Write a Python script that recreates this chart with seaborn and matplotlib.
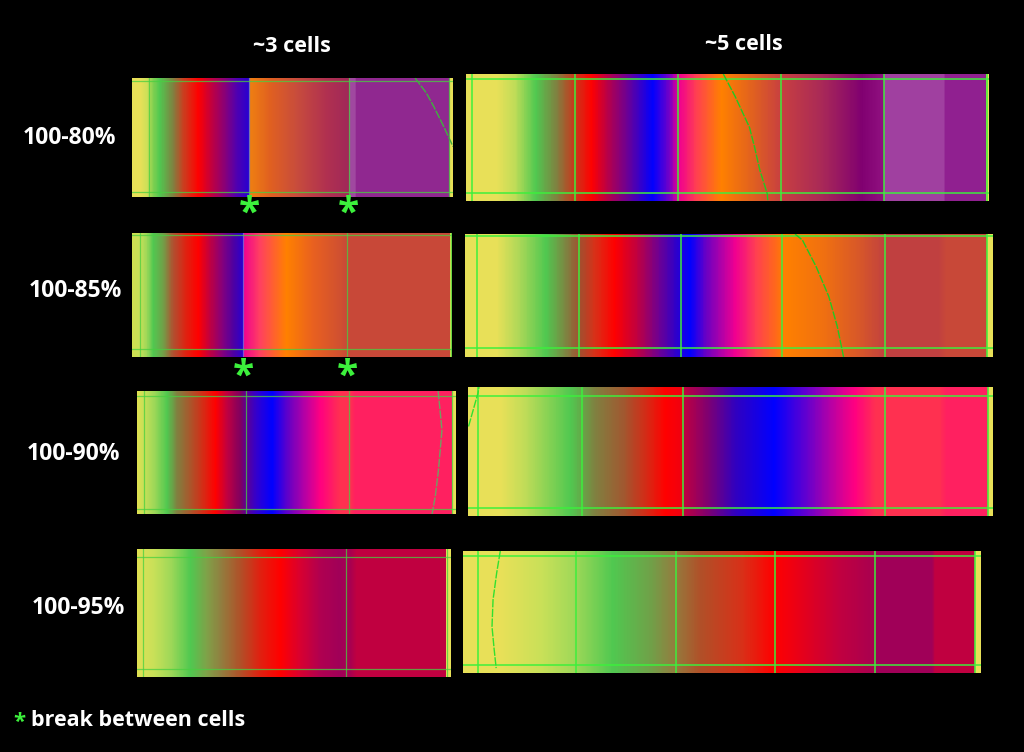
import numpy as np
import matplotlib
matplotlib.use("Agg")
import matplotlib.pyplot as plt
from matplotlib.colors import LinearSegmentedColormap
import seaborn as sns

plt.rcParams['font.family'] = ['Open Sans', 'DejaVu Sans']

# column / row labels
col_titles = ["~3 cells", "~5 cells"]
row_labels = ["100-80%", "100-85%", "100-90%", "100-95%"]

# colour stops along each kymograph strip (position along strip, colour)
stops_80_3 = [(0.0, "#e8e058"), (0.024, "#e8e058"), (0.045, "#d0e058"), (0.066, "#80d050"),
              (0.086, "#50c850"), (0.128, "#808040"), (0.159, "#c84020"), (0.206, "#ff0000"),
              (0.248, "#c00040"), (0.284, "#900070"), (0.326, "#5000b0"), (0.364, "#2800d0"),
              (0.365, "#f08010"), (0.430, "#e06020"), (0.513, "#c84c3c"), (0.607, "#b03050"),
              (0.675, "#a02858"), (0.676, "#a048a0"), (0.695, "#a048a0"), (0.698, "#902890"),
              (0.989, "#902890"), (0.990, "#e8e058"), (1.0, "#e8e058")]
stops_85_3 = [(0.0, "#d0e050"), (0.024, "#c8e058"), (0.045, "#a0d858"), (0.066, "#50c850"),
              (0.097, "#70a048"), (0.128, "#b05030"), (0.170, "#e02010"), (0.207, "#ff0000"),
              (0.243, "#c00040"), (0.285, "#800080"), (0.316, "#5000a0"), (0.347, "#2800d0"),
              (0.348, "#f00090"), (0.400, "#ff4060"), (0.483, "#ff8000"), (0.567, "#e86020"),
              (0.650, "#d05030"), (0.672, "#c84838"), (0.995, "#c84838"), (0.996, "#d0e050"),
              (1.0, "#d0e050")]
stops_90_3 = [(0.0, "#e0e050"), (0.021, "#c8e058"), (0.052, "#a0d858"), (0.094, "#50c850"),
              (0.125, "#808040"), (0.188, "#c04020"), (0.246, "#ff0000"), (0.282, "#c00040"),
              (0.324, "#800060"), (0.342, "#600090"), (0.376, "#3000d0"), (0.423, "#0000ff"),
              (0.481, "#7000c0"), (0.533, "#c000a0"), (0.575, "#ff0080"), (0.637, "#ff3050"),
              (0.669, "#ff3050"), (0.684, "#ff2060"), (0.987, "#ff2060"), (0.988, "#e8e058"),
              (1.0, "#e8e058")]
stops_95_3 = [(0.0, "#e0e050"), (0.018, "#d8e058"), (0.053, "#c8e058"), (0.106, "#a0d858"),
              (0.170, "#50c850"), (0.223, "#80a048"), (0.265, "#908040"), (0.329, "#b05028"),
              (0.392, "#e02010"), (0.456, "#ff0000"), (0.520, "#d80030"), (0.583, "#b00050"),
              (0.647, "#a00058"), (0.679, "#a80050"), (0.700, "#c00040"), (0.985, "#c00040"),
              (0.986, "#e8e058"), (1.0, "#e8e058")]
stops_80_5 = [(0.0, "#e8e058"), (0.059, "#e8e058"), (0.093, "#c0dc58"), (0.133, "#50c850"),
              (0.173, "#808040"), (0.203, "#c04020"), (0.240, "#ff0000"), (0.274, "#b00050"),
              (0.314, "#6000a0"), (0.357, "#0000ff"), (0.388, "#7000c8"), (0.408, "#f00090"),
              (0.441, "#ff4050"), (0.488, "#ff8000"), (0.549, "#e06020"), (0.602, "#c84040"),
              (0.683, "#a82858"), (0.757, "#800070"), (0.798, "#901080"), (0.799, "#a040a0"),
              (0.914, "#a040a0"), (0.916, "#902090"), (0.995, "#902090"), (0.996, "#e8e058"),
              (1.0, "#e8e058")]
stops_85_5 = [(0.0, "#e8e058"), (0.060, "#e8e058"), (0.100, "#b0d858"), (0.153, "#50c850"),
              (0.193, "#808040"), (0.216, "#a05030"), (0.246, "#d83018"), (0.283, "#ff0000"),
              (0.326, "#c00040"), (0.366, "#700090"), (0.399, "#3000c8"), (0.426, "#0000ff"),
              (0.459, "#7000c0"), (0.512, "#f00090"), (0.552, "#ff4050"), (0.595, "#ff7010"),
              (0.605, "#ff8000"), (0.679, "#f07010"), (0.745, "#d85828"), (0.798, "#c04040"),
              (0.898, "#c04040"), (0.912, "#c84838"), (0.988, "#c84838"), (0.989, "#e8e058"),
              (1.0, "#e8e058")]
stops_90_5 = [(0.0, "#e8e058"), (0.062, "#e8e058"), (0.108, "#c0dc58"), (0.195, "#50c850"),
              (0.242, "#808040"), (0.296, "#a05830"), (0.349, "#e02010"), (0.376, "#ff0000"),
              (0.408, "#f00010"), (0.411, "#c00040"), (0.456, "#800070"), (0.510, "#3000c0"),
              (0.583, "#0000ff"), (0.643, "#6000d0"), (0.697, "#c000a0"), (0.737, "#ff0080"),
              (0.777, "#ff3050"), (0.898, "#ff3050"), (0.911, "#ff2060"), (0.989, "#ff2060"),
              (0.990, "#e8e058"), (1.0, "#e8e058")]
stops_95_5 = [(0.0, "#e8e058"), (0.072, "#e8e058"), (0.153, "#c8e058"), (0.214, "#a0d858"),
              (0.289, "#50c850"), (0.363, "#70a048"), (0.404, "#908040"), (0.458, "#b05028"),
              (0.539, "#d83018"), (0.600, "#ff0000"), (0.634, "#f00010"), (0.729, "#c00040"),
              (0.795, "#a80050"), (0.797, "#a00058"), (0.905, "#a00058"), (0.912, "#c00040"),
              (0.988, "#c00040"), (0.989, "#e8e058"), (1.0, "#e8e058")]

# green grid lines (vertical: fraction along strip, horizontal: fraction from top)
vlines_80_3 = [0.053, 0.365, 0.675, 0.989]
vlines_85_3 = [0.024, 0.348, 0.672, 0.997]
vlines_90_3 = [0.021, 0.342, 0.665, 0.988]
vlines_95_3 = [0.018, 0.665, 0.986]
vlines_80_5 = [0.011, 0.209, 0.406, 0.602, 0.799, 0.997]
vlines_85_5 = [0.023, 0.216, 0.409, 0.601, 0.795, 0.988]
vlines_90_5 = [0.019, 0.217, 0.409, 0.795, 0.990]
vlines_95_5 = [0.028, 0.219, 0.411, 0.603, 0.795, 0.988]
hlines_80_3 = [0.028, 0.958]
hlines_85_3 = [0.016, 0.935]
hlines_90_3 = [0.038, 0.960]
hlines_95_3 = [0.060, 0.937]
hlines_80_5 = [0.039, 0.937]
hlines_85_5 = [0.0135, 0.927]
hlines_90_5 = [0.067, 0.940]
hlines_95_5 = [0.038, 0.934]

# traced boundary lines (x fraction, y fraction from top)
trace_80_3 = ([0.882, 0.917, 0.940, 0.971, 1.0], [0, 0.126, 0.239, 0.407, 0.576])
trace_90_3 = ([0.944, 0.953, 0.956, 0.945, 0.935, 0.925], [0, 0.237, 0.318, 0.642, 0.857, 1.0])
trace_80_5 = ([0.492, 0.515, 0.542, 0.552, 0.562, 0.576, 0.577], [0, 0.18, 0.42, 0.58, 0.76, 0.942, 1.0])
trace_85_5 = ([0.625, 0.639, 0.665, 0.689, 0.705, 0.717], [0, 0.049, 0.265, 0.508, 0.751, 1.0])
trace_90_5 = ([0.001, 0.019, 0.021], [0.306, 0.047, 0])
trace_95_5 = ([0.072, 0.065, 0.058, 0.056, 0.060, 0.064], [0, 0.18, 0.40, 0.62, 0.80, 0.96])

# break markers under the 3-cell strips
breaks_80 = [0.365, 0.675]
breaks_85 = [0.348, 0.672]

W, H = 1024, 752
N = 600

fig = plt.figure(figsize=(W / 100, H / 100), dpi=100, facecolor="black")


def strip(box, stops, vlines, hlines, trace=None, line_col="#3cf03c", line_alpha=0.9,
          line_w=1.2, trace_col="#22c822", break_col=None, breaks=()):
    x0, y0, x1, y1 = box
    ax = fig.add_axes([x0 / W, 1 - y1 / H, (x1 - x0) / W, (y1 - y0) / H])
    cmap = LinearSegmentedColormap.from_list("strip", stops, N=1024)
    grad = ((np.arange(N) + 0.5) / N)[None, :]
    sns.heatmap(grad, cmap=cmap, vmin=0, vmax=1, cbar=False, xticklabels=False,
                yticklabels=False, linewidths=0, rasterized=True, ax=ax)
    for v in vlines:
        c = break_col if (break_col and v in breaks) else line_col
        ax.axvline(v * N, color=c, lw=line_w, alpha=line_alpha)
    for h in hlines:
        ax.axhline(h, color=line_col, lw=line_w, alpha=line_alpha)
    if trace is not None:
        ax.plot(np.array(trace[0]) * N, trace[1], color=trace_col, lw=1.0,
                ls=(0, (6, 1)))
    ax.set_axis_off()
    return ax


left_kw = dict(line_col="#48d040", line_alpha=0.75, line_w=0.9)
strip((132, 78, 453, 197), stops_80_3, vlines_80_3, hlines_80_3, trace_80_3,
      trace_col="#40b040", break_col="#5070e0", breaks=(0.365,), **left_kw)
strip((132, 233, 452, 357), stops_85_3, vlines_85_3, hlines_85_3,
      break_col="#6070e0", breaks=(0.348,), **left_kw)
strip((137, 391, 456, 514), stops_90_3, vlines_90_3, hlines_90_3, trace_90_3,
      trace_col="#70a060", **left_kw)
strip((137, 549, 451, 677), stops_95_3, vlines_95_3, hlines_95_3, **left_kw)

strip((466, 74, 989, 201), stops_80_5, vlines_80_5, hlines_80_5, trace_80_5)
strip((465, 234, 993, 357), stops_85_5, vlines_85_5, hlines_85_5, trace_85_5)
strip((468, 387, 993, 516), stops_90_5, vlines_90_5, hlines_90_5, trace_90_5,
      trace_col="#30e030")
strip((463, 551, 981, 673), stops_95_5, vlines_95_5, hlines_95_5, trace_95_5,
      trace_col="#30e030")

# titles and labels
fig.text(292 / W, 1 - 46 / H, col_titles[0], color="white", fontsize=15.5,
         fontweight="bold", ha="center", va="center")
fig.text(744 / W, 1 - 45 / H, col_titles[1], color="white", fontsize=15.5,
         fontweight="bold", ha="center", va="center")
for lab, (lx, ly) in zip(row_labels, [(69, 138), (75, 291), (73, 454), (78, 608)]):
    fig.text(lx / W, 1 - ly / H, lab, color="white", fontsize=16.5,
             fontweight="bold", ha="center", va="center")

# break asterisks
for brks, box, ay in [(breaks_80, (132, 453), 214), (breaks_85, (132, 452), 377)]:
    for b in brks:
        bx = box[0] + b * (box[1] - box[0])
        fig.text(bx / W, 1 - ay / H, "*", color="#3cf03c", fontsize=28,
                 fontweight="bold", ha="center", va="center")

fig.text(19 / W, 1 - 722 / H, "*", color="#3cf03c", fontsize=16,
         fontweight="bold", ha="center", va="center")
fig.text(31 / W, 1 - 720 / H, "break between cells", color="white", fontsize=15.5,
         fontweight="bold", ha="left", va="center")

fig.savefig("out.png", dpi=100, facecolor="black")
